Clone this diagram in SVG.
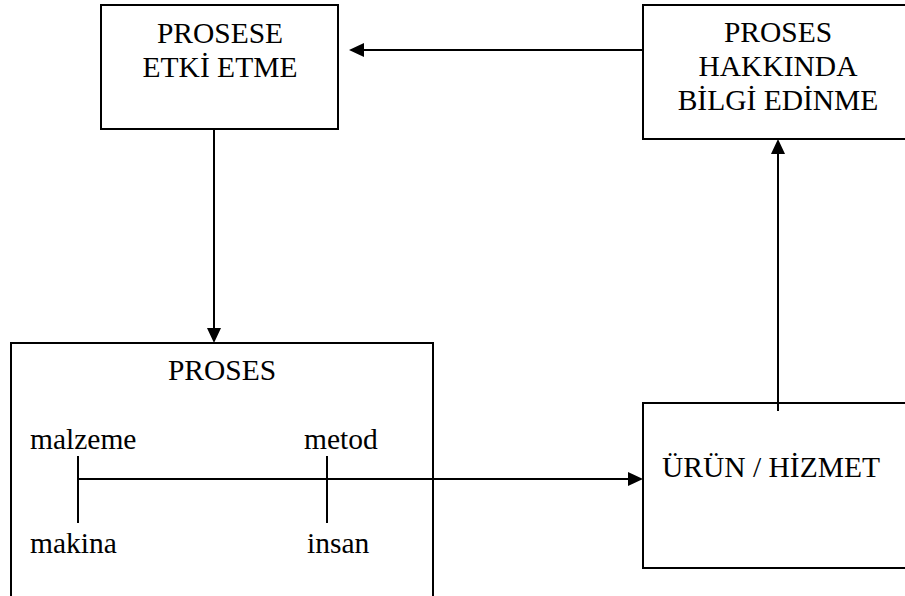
<svg xmlns="http://www.w3.org/2000/svg" width="905" height="596" viewBox="0 0 905 596">
<style>
.box{fill:none;stroke:#000;stroke-width:2}
.ln{fill:none;stroke:#000;stroke-width:2}
.ah{fill:#000;stroke:none}
.c{text-anchor:middle}
</style>
<rect width="905" height="596" fill="#fff"/>
<g font-family="Liberation Serif, Tinos, Times New Roman, DejaVu Serif, serif" font-size="29.5" fill="#000">
<g id="node-etki">
<rect class="box" x="101" y="5" width="237" height="124"/>
<text class="c" x="220" y="43">PROSESE</text>
<text class="c" x="220" y="77">ETKİ ETME</text>
</g>
<g id="node-bilgi">
<rect class="box" x="643" y="5" width="280" height="134"/>
<text class="c" x="778" y="42">PROSES</text>
<text class="c" x="778" y="76">HAKKINDA</text>
<text class="c" x="778" y="110">BİLGİ EDİNME</text>
</g>
<g id="node-proses">
<path class="box" d="M11,606 V343 H433 V606"/>
<text class="c" x="222" y="380">PROSES</text>
<text x="30" y="449">malzeme</text>
<text x="304" y="449">metod</text>
<text x="30" y="553">makina</text>
<text x="307" y="553">insan</text>
<line class="ln" x1="78" y1="456" x2="78" y2="523"/>
<line class="ln" x1="327" y1="456" x2="327" y2="523"/>
</g>
<g id="node-urun">
<rect class="box" x="643" y="403" width="280" height="165"/>
<text x="662" y="477">ÜRÜN / HİZMET</text>
</g>
</g>
<g id="connectors">
<line class="ln" x1="643" y1="50" x2="362" y2="50"/>
<polygon class="ah" points="349,50 364,43 364,57"/>
<line class="ln" x1="214" y1="129" x2="214" y2="330"/>
<polygon class="ah" points="214,343 207,328 221,328"/>
<line class="ln" x1="78" y1="479" x2="630" y2="479"/>
<polygon class="ah" points="643,479 628,472 628,486"/>
<line class="ln" x1="778" y1="411" x2="778" y2="152"/>
<polygon class="ah" points="778,139 771,154 785,154"/>
</g>
</svg>
